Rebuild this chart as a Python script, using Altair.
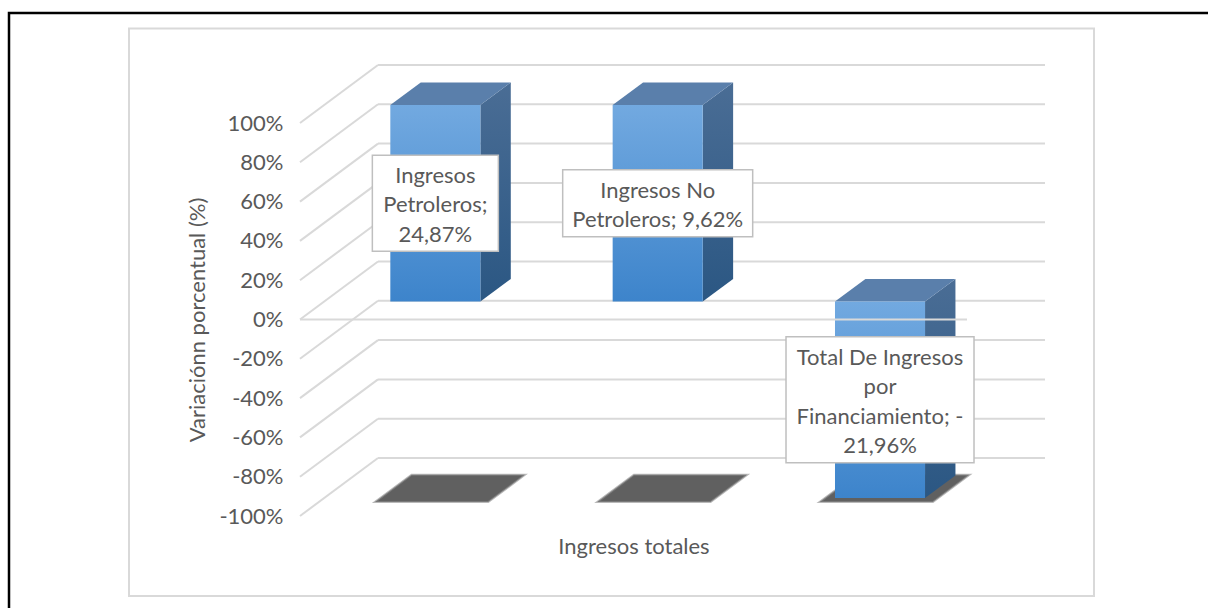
import altair as alt
import pandas as pd

# ---------------- data ----------------
CATEGORIES = ["Ingresos Petroleros", "Ingresos No Petroleros",
              "Total De Ingresos por Financiamiento"]
# values in axis units (1 = 100 % on the value axis); labels show 24,87 % etc.
VALUES = [24.87, 9.62, -21.96]
LABELS = ["Ingresos\nPetroleros;\n24,87%",
          "Ingresos No\nPetroleros; 9,62%",
          "Total De Ingresos\npor\nFinanciamiento; -\n21,96%"]
TICKS = [-1.0, -0.8, -0.6, -0.4, -0.2, 0.0, 0.2, 0.4, 0.6, 0.8, 1.0]
X_TITLE = "Ingresos totales"
Y_TITLE = "Variaciónn porcentual (%)"

# ---------------- styles / geometry ----------------
N = len(CATEGORIES)
FRONT_W = 667.0          # px of front plane width
FRONT_H = 393.0          # px of front plane (-100%..100%)
DEPTH_PX_X = 78.0
DEPTH_PX_Y = 58.0
PX_X = FRONT_W / N
PX_Y = FRONT_H / 2
DX = DEPTH_PX_X / PX_X   # depth shift in x data units
DY = DEPTH_PX_Y / PX_Y   # depth shift in y data units
W = FRONT_W + DEPTH_PX_X
H = FRONT_H + DEPTH_PX_Y
HALF = 0.2025            # half bar width (x units)
D0, D1 = 0.31, 0.70      # bar depth range
S0, S1 = 0.24, 0.71      # shadow depth range
BOX_W = [126, 190, 188]
BOX_H = [96, 67, 126]
LINE_H = 29.5
FONT = "Lato"
FS = 22
GREY = "#595959"
GRID = "#d9d9d9"

XS = alt.Scale(domain=[0, N + DX], nice=False, zero=False)
YS = alt.Scale(domain=[-1, 1 + DY], nice=False, zero=False)

XAXIS = alt.Axis(labels=False, ticks=False, domain=False, grid=False,
                 title=X_TITLE, titleFont=FONT, titleFontSize=FS,
                 titleColor=GREY, titleFontWeight="normal",
                 titleX=FRONT_W / 2, titleY=37, titleBaseline="alphabetic",
                 titleAlign="center", zindex=1)
YAXIS = alt.Axis(values=TICKS, labelExpr="round(datum.value*100) + '%'",
                 ticks=False, domain=False, grid=False, labelPadding=17,
                 labelFont=FONT, labelFontSize=FS, labelColor=GREY,
                 title=Y_TITLE, titleFont=FONT, titleFontSize=FS,
                 titleColor=GREY, titleFontWeight="normal",
                 titleX=-96, titleY=DEPTH_PX_Y + FRONT_H / 2,
                 titleBaseline="alphabetic", titleAlign="center",
                 titleAngle=270, zindex=1)


def X(f):
    return alt.X(f, type="quantitative", scale=XS, axis=XAXIS)


def Y(f):
    return alt.Y(f, type="quantitative", scale=YS, axis=YAXIS)


bars_df = pd.DataFrame({"cat": CATEGORIES, "value": VALUES,
                        "label": LABELS, "idx": list(range(N))})
grid_df = pd.DataFrame({"v": TICKS})

FRONT_GRAD = alt.Gradient(gradient="linear",
                          stops=[alt.GradientStop(color="#72a9e0", offset=0),
                                 alt.GradientStop(color="#3d84cb", offset=1)],
                          x1=0, x2=0, y1=0, y2=1)
SIDE_GRAD = alt.Gradient(gradient="linear",
                         stops=[alt.GradientStop(color="#4a6d95", offset=0),
                                alt.GradientStop(color="#2b5783", offset=1)],
                         x1=0, x2=0, y1=0, y2=1)

# ---------------- frames ----------------
frame_df = pd.DataFrame({"k": [0]})
outer = alt.Chart(frame_df).mark_rect(fill="white", stroke="black",
                                      strokeWidth=2.5).encode(
    x=alt.value(9 - 300), x2=alt.value(940), y=alt.value(13 - 65),
    y2=alt.value(570))
inner = alt.Chart(frame_df).mark_rect(fill="white", stroke=GRID,
                                      strokeWidth=2).encode(
    x=alt.value(129 - 300), x2=alt.value(1094 - 300),
    y=alt.value(28.5 - 65), y2=alt.value(596 - 65))

# ---------------- walls ----------------
back = alt.Chart(grid_df).transform_calculate(
    gx0=f"{DX}", gx1=f"{N} + {DX}", gy=f"datum.v + {DY}"
).mark_rule(color=GRID, strokeWidth=2).encode(x=X("gx0"), x2="gx1", y=Y("gy"))

side_wall = alt.Chart(grid_df).transform_calculate(
    lx0="0", lx1=f"{DX}", ly1=f"datum.v + {DY}"
).mark_rule(color=GRID, strokeWidth=2).encode(x=X("lx0"), x2="lx1",
                                              y=Y("v"), y2="ly1")

# ---------------- bars ----------------
base = alt.Chart(bars_df).transform_calculate(
    vis="clamp(datum.value, -1, 1)"
).transform_calculate(
    top="max(0, datum.vis)", bot="min(0, datum.vis)",
    x0=f"datum.idx + 0.5 - {HALF}", x1=f"datum.idx + 0.5 + {HALF}")

shadow = base.transform_calculate(da=f"{S0}", db=f"{S1}").transform_fold(
    ["da", "db"], as_=["k", "d"]
).transform_calculate(
    sy=f"-1 + datum.d * {DY}",
    sl=f"datum.x0 - 0.045 + datum.d * {DX}",
    sr=f"datum.x1 + 0.06 + datum.d * {DX}"
).mark_area(orient="horizontal", color="#606060", stroke="#8a8a8a",
            strokeWidth=2, strokeOpacity=0.6).encode(
    y=Y("sy"), x=X("sl"), x2="sr", detail="cat:N")

side = base.transform_calculate(da=f"{D0}", db=f"{D1}").transform_fold(
    ["da", "db"], as_=["k", "d"]
).transform_calculate(
    sx=f"datum.x1 + datum.d * {DX}",
    st=f"datum.top + datum.d * {DY}",
    sb=f"datum.bot + datum.d * {DY}"
).mark_area(orient="vertical", color=SIDE_GRAD).encode(
    x=X("sx"), y=Y("st"), y2="sb", detail="cat:N")

topf = base.transform_calculate(da=f"{D0}", db=f"{D1}").transform_fold(
    ["da", "db"], as_=["k", "d"]
).transform_calculate(
    ty=f"datum.top + datum.d * {DY}",
    tl=f"datum.x0 + datum.d * {DX}",
    tr=f"datum.x1 + datum.d * {DX}"
).mark_area(orient="horizontal", color="#5a7fab").encode(
    y=Y("ty"), x=X("tl"), x2="tr", detail="cat:N")

front = base.transform_calculate(
    fx0=f"datum.x0 + {D0 * DX}", fx1=f"datum.x1 + {D0 * DX}",
    fy0=f"datum.bot + {D0 * DY}", fy1=f"datum.top + {D0 * DY}"
).mark_rect(color=FRONT_GRAD).encode(x=X("fx0"), x2="fx1",
                                     y=Y("fy1"), y2="fy0")

zero_line = alt.Chart(frame_df).transform_calculate(
    zx0="0", zx1=f"{N}", zy="0"
).mark_rule(color=GRID, strokeWidth=2).encode(x=X("zx0"), x2="zx1", y=Y("zy"))

# ---------------- labels ----------------
lab_base = base.transform_calculate(
    lx=f"(datum.x0 + datum.x1) / 2 + {D0 * DX}",
    ly=f"datum.vis / 2 + {D0 * DY}")

labels = []
for i in range(N):
    w, h = BOX_W[i], BOX_H[i]
    n_lines = LABELS[i].count("\n") + 1
    sel = lab_base.transform_filter(f"datum.idx == {i}")
    labels.append(
        sel.mark_rect(
            fill="white", stroke="#bfbfbf", strokeWidth=1.5,
            xOffset=-w / 2, x2Offset=w / 2, yOffset=-h / 2, y2Offset=h / 2
        ).encode(x=X("lx"), x2="lx", y=Y("ly"), y2="ly"))
    labels.append(
        sel.mark_text(align="center", baseline="middle", lineBreak="\n",
                      lineHeight=LINE_H, font=FONT, fontSize=FS, color=GREY,
                      dy=-(n_lines - 1) * LINE_H / 2 + 2
                      ).encode(x=X("lx"), y=Y("ly"), text="label:N"))

chart = alt.layer(
    outer, inner, back, side_wall, shadow, side, topf, front, zero_line,
    *labels
).properties(
    width=W, height=H,
    padding={"left": 300, "top": 65, "right": 1208 - 300 - W,
             "bottom": 608 - 65 - H},
    autosize=alt.AutoSizeParams(type="none"),
    background="white",
).configure_view(strokeWidth=0)

chart.save("out.html", embed_options={"renderer": "svg", "actions": False})
